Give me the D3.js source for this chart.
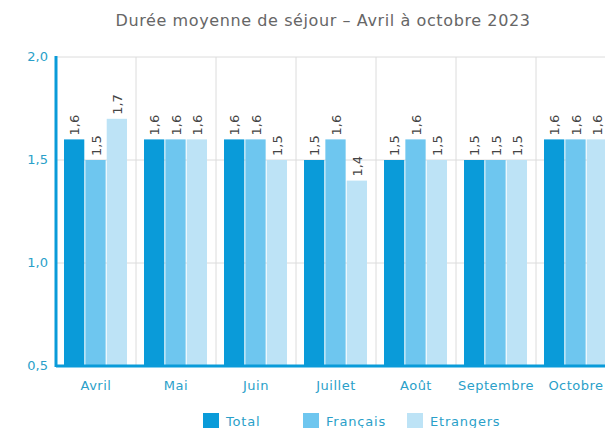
<!DOCTYPE html>
<html>
<head>
<meta charset="utf-8">
<script src="https://cdn.jsdelivr.net/npm/d3@7"></script>
<style>
  body { margin: 0; background: #fff; }
  text { font-family: "DejaVu Sans", sans-serif; }
</style>
</head>
<body>
<script>
// Données
var mois = ["Avril", "Mai", "Juin", "Juillet", "Août", "Septembre", "Octobre"];
var series = ["Total", "Français", "Etrangers"];
var total = [1.6, 1.6, 1.6, 1.5, 1.5, 1.5, 1.6];
var francais = [1.5, 1.6, 1.6, 1.6, 1.6, 1.5, 1.6];
var etrangers = [1.7, 1.6, 1.5, 1.4, 1.5, 1.5, 1.6];
var yTicks = [0.5, 1.0, 1.5, 2.0];

var couleurs = ["#0a9bd9", "#6ec6ef", "#bde3f6"];
var valeurs = [total, francais, etrangers];

var width = 605, height = 428;
var margin = {top: 57, left: 56};
var plotW = 560, plotH = 309;

var svg = d3.select("body").append("svg")
    .attr("width", width)
    .attr("height", height);

var g = svg.append("g")
    .attr("transform", "translate(" + margin.left + "," + margin.top + ")");

var x = d3.scaleBand().domain(mois).range([0, plotW]).paddingInner(0).paddingOuter(0);
var xs = d3.scaleBand().domain(series).range([8, x.bandwidth() - 9]).paddingInner(0.05);
var y = d3.scaleLinear().domain([0.5, 2.0]).range([plotH, 0]);

// Titre
svg.append("text")
    .attr("x", 323)
    .attr("y", 26)
    .attr("text-anchor", "middle")
    .attr("fill", "#666")
    .attr("font-size", "16px")
    .attr("letter-spacing", "0.6px")
    .text("Durée moyenne de séjour – Avril à octobre 2023");

// Grille horizontale
g.selectAll(".hgrid")
    .data(yTicks.slice(1))
    .enter().append("line")
    .attr("x1", 0).attr("x2", plotW)
    .attr("y1", function(d) { return y(d); })
    .attr("y2", function(d) { return y(d); })
    .attr("stroke", "#dcdcdc");

// Grille verticale
g.selectAll(".vgrid")
    .data(mois.slice(1).concat(["fin"]))
    .enter().append("line")
    .attr("x1", function(d, i) { return x.bandwidth() * (i + 1); })
    .attr("x2", function(d, i) { return x.bandwidth() * (i + 1); })
    .attr("y1", 0).attr("y2", plotH)
    .attr("stroke", "#dcdcdc");

// Barres
var groupes = g.selectAll(".mois")
    .data(mois)
    .enter().append("g")
    .attr("transform", function(d) { return "translate(" + x(d) + ",0)"; });

groupes.each(function(m, i) {
  var gm = d3.select(this);
  series.forEach(function(s, j) {
    var v = valeurs[j][i];
    gm.append("rect")
      .attr("x", xs(s))
      .attr("y", y(v))
      .attr("width", xs.bandwidth())
      .attr("height", plotH - y(v))
      .attr("fill", couleurs[j]);
    gm.append("text")
      .attr("transform", "translate(" + (xs(s) + xs.bandwidth() / 2 + 5) + "," + (y(v) - 4) + ") rotate(-90)")
      .attr("font-size", "13px")
      .attr("fill", "#444")
      .text(v.toFixed(1).replace(".", ","));
  });
});

// Axes
g.append("line")
    .attr("x1", 0).attr("x2", 0)
    .attr("y1", -1).attr("y2", plotH + 1)
    .attr("stroke", "#0a9bd9").attr("stroke-width", 3);
g.append("line")
    .attr("x1", 0).attr("x2", plotW + 10)
    .attr("y1", plotH).attr("y2", plotH)
    .attr("stroke", "#0a9bd9").attr("stroke-width", 3);

// Étiquettes axe Y
g.selectAll(".ytick")
    .data(yTicks)
    .enter().append("text")
    .attr("x", -8)
    .attr("y", function(d) { return y(d) + 4; })
    .attr("text-anchor", "end")
    .attr("font-size", "13px")
    .attr("fill", "#2a9fc9")
    .text(function(d) { return d.toFixed(1).replace(".", ","); });

// Étiquettes axe X
g.selectAll(".xtick")
    .data(mois)
    .enter().append("text")
    .attr("x", function(d) { return x(d) + x.bandwidth() / 2; })
    .attr("y", plotH + 24)
    .attr("text-anchor", "middle")
    .attr("font-size", "13px")
    .attr("letter-spacing", "0.5px")
    .attr("fill", "#2a9fc9")
    .text(function(d) { return d; });

// Légende
var legX = [203, 303, 407];
var leg = svg.selectAll(".leg")
    .data(series)
    .enter().append("g")
    .attr("transform", function(d, i) { return "translate(" + legX[i] + ",413)"; });
leg.append("rect")
    .attr("width", 16).attr("height", 16)
    .attr("fill", function(d, i) { return couleurs[i]; });
leg.append("text")
    .attr("x", 23).attr("y", 13)
    .attr("font-size", "13px")
    .attr("letter-spacing", "0.8px")
    .attr("fill", "#2a9fc9")
    .text(function(d) { return d; });
</script>
</body>
</html>
